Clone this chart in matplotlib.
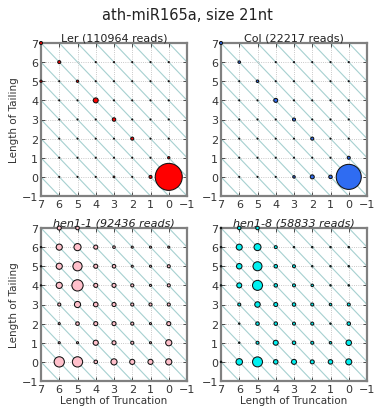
import numpy as np
import matplotlib
matplotlib.use("Agg")
import matplotlib.pyplot as plt

title = "ath-miR165a, size 21nt"
panel_names = ["Ler", "Col", "hen1-1", "hen1-8"]
panel_reads = [110964, 22217, 92436, 58833]
panel_colors = ["#ff0000", "#2f6cf2", "#ffc0cb", "#00f0f0"]
panel_italic = [False, False, True, True]

# rows: tailing 7 (top) .. 0 (bottom); columns: truncation 7 (left) .. 0 (right)
truncation_cols = [7, 6, 5, 4, 3, 2, 1, 0]
tailing_rows = [7, 6, 5, 4, 3, 2, 1, 0]

ler_counts = [
    [1240, 0, 0, 0, 0, 0, 0, 0],
    [0, 1240, 0, 150, 150, 150, 150, 150],
    [700, 150, 700, 150, 150, 150, 150, 150],
    [0, 150, 150, 3400, 150, 150, 150, 150],
    [0, 150, 150, 150, 1660, 150, 150, 150],
    [0, 150, 150, 150, 150, 1240, 150, 150],
    [0, 150, 150, 150, 150, 150, 150, 700],
    [0, 150, 150, 150, 400, 150, 1240, 100000],
]
col_counts = [
    [250, 0, 0, 0, 0, 0, 0, 0],
    [0, 170, 0, 30, 30, 30, 30, 30],
    [0, 30, 170, 30, 30, 30, 30, 30],
    [0, 30, 30, 440, 30, 30, 30, 30],
    [0, 30, 30, 30, 250, 30, 30, 30],
    [0, 30, 30, 30, 30, 250, 30, 30],
    [0, 30, 30, 30, 30, 30, 30, 250],
    [0, 30, 30, 30, 170, 440, 330, 17200],
]
hen11_counts = [
    [0, 1900, 1450, 0, 0, 0, 0, 0],
    [200, 4300, 5800, 1900, 740, 480, 480, 480],
    [200, 4300, 9700, 1900, 1450, 480, 480, 1080],
    [200, 4300, 14500, 1900, 1900, 1080, 480, 1080],
    [0, 1080, 4300, 2400, 1900, 1080, 1080, 1080],
    [0, 480, 1450, 1900, 1900, 1080, 480, 1900],
    [0, 480, 480, 3000, 1900, 1080, 480, 4300],
    [0, 12000, 12000, 1450, 4300, 3000, 3000, 4300],
]
hen18_counts = [
    [150, 890, 890, 0, 0, 0, 0, 0],
    [150, 2610, 3550, 650, 150, 150, 150, 150],
    [150, 2190, 5880, 890, 650, 150, 150, 150],
    [150, 1810, 7250, 890, 650, 450, 150, 150],
    [0, 650, 2190, 1160, 890, 650, 450, 650],
    [0, 150, 890, 890, 650, 650, 150, 890],
    [0, 150, 650, 1810, 890, 650, 450, 2190],
    [150, 3060, 7250, 1470, 1810, 1160, 1470, 2610],
]
panel_counts = [ler_counts, col_counts, hen11_counts, hen18_counts]

size_scale = 420.0  # marker area (pt^2) for 100% of reads

fig = plt.figure(figsize=(3.75, 4.10), dpi=100)
fig.text(0.5, 0.962, title, ha="center", va="center", fontsize=10.5,
         color="#222222")

W, H = 375.0, 410.0
lefts = [41 / W, 221 / W]
bottoms = [(H - 197) / H, (H - 382) / H]
aw, ah = 146 / W, 153 / H

ticks = np.arange(-1, 8)
for i in range(4):
    r, c = divmod(i, 2)
    ax = fig.add_axes([lefts[c], bottoms[r], aw, ah])
    ax.set_xlim(7, -1)
    ax.set_ylim(-1, 7)
    ax.set_xticks(ticks)
    ax.set_yticks(ticks)
    ax.tick_params(direction="in", length=3, width=0.6, labelsize=8,
                   pad=2, top=True, right=True, colors="#333333")
    ax.grid(True, color="#b8b8b8", linestyle=":", linewidth=0.6)
    for s in ax.spines.values():
        s.set_color("#808080")
        s.set_linewidth(1.6)
    # diagonal lines of constant read length
    xs = np.array([-2, 9])
    for off in range(-9, 10):
        ax.plot(xs, xs + off, color="#a6d0d0", linewidth=0.8, zorder=1)
    counts = np.array(panel_counts[i], dtype=float)
    X, Y = np.meshgrid(truncation_cols, tailing_rows)
    m = counts > 0
    sizes = counts[m] / panel_reads[i] * size_scale
    ax.scatter(X[m], Y[m], s=sizes, c=panel_colors[i], edgecolors="#111111",
               linewidths=0.75, zorder=3, clip_on=False)
    ax.set_title(f"{panel_names[i]} ({panel_reads[i]} reads)", fontsize=8,
                 style="italic" if panel_italic[i] else "normal", pad=2,
                 color="#222222")
    if c == 0:
        ax.set_ylabel("Length of Tailing", fontsize=7.5, labelpad=2,
                      color="#333333")
    if r == 1:
        ax.set_xlabel("Length of Truncation", fontsize=7.5, labelpad=1,
                      color="#333333")

fig.savefig("out.png", dpi=100)
